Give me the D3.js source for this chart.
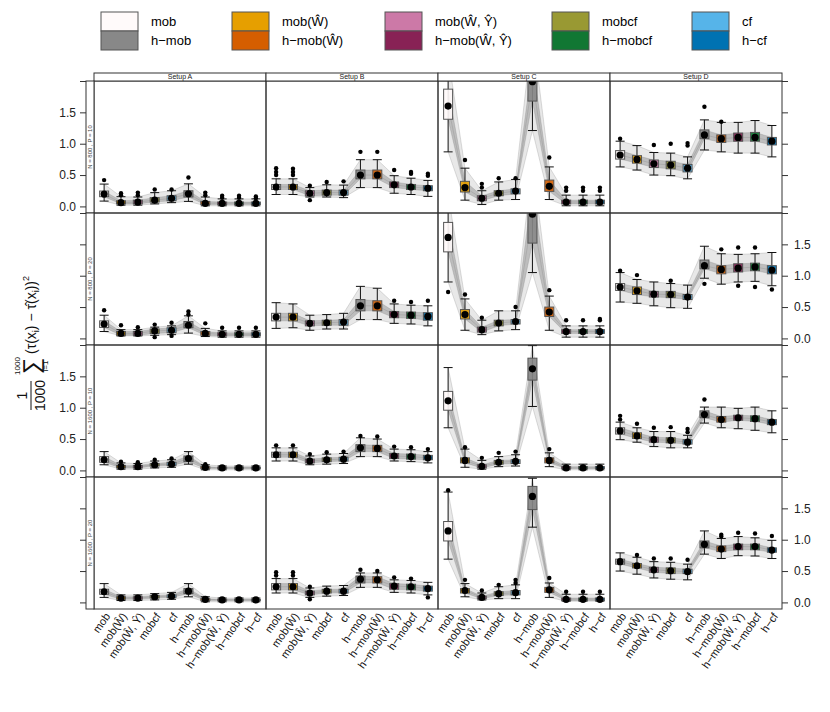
<!DOCTYPE html>
<html>
<head>
<meta charset="utf-8">
<script src="https://cdn.jsdelivr.net/npm/d3@7"></script>
<style>
body { margin: 0; background: #fff; }
text { font-family: "Liberation Sans", Arial, Helvetica, sans-serif; }
</style>
</head>
<body>
<div id="chart"></div>
<script>
// methods in plotting order, with box colours
var methods = ["mob", "mob(Ŵ)", "mob(Ŵ, Ŷ)", "mobcf", "cf",
    "h−mob", "h−mob(Ŵ)", "h−mob(Ŵ, Ŷ)", "h−mobcf", "h−cf"];
var fills = ["#FFFAFA", "#E69F00", "#CC79A7", "#999933", "#56B4E9",
    "#888888", "#D55E00", "#882255", "#117733", "#0072B2"];
var setups = ["Setup A", "Setup B", "Setup C", "Setup D"];
var designs = ["N = 800 , P = 10", "N = 800 , P = 20", "N = 1600 , P = 10", "N = 1600 , P = 20"];
var yTicks = [0, 0.5, 1, 1.5, 2];

// one entry per panel, row by row (designs), Setup A..D within a row
var lowW = [
    [0.085, 0.02, 0.02, 0.04, 0.06, 0.08, 0.01, 0.01, 0.01, 0.01],
    [0.19, 0.19, 0.15, 0.15, 0.14, 0.30, 0.30, 0.21, 0.19, 0.16],
    [0.87, 0.10, 0.03, 0.10, 0.11, 1.21, 0.11, 0.01, 0.01, 0.01],
    [0.63, 0.58, 0.50, 0.49, 0.44, 0.90, 0.87, 0.85, 0.85, 0.79],
    [0.11, 0.04, 0.04, 0.05, 0.06, 0.085, 0.03, 0.02, 0.02, 0.02],
    [0.16, 0.17, 0.13, 0.15, 0.15, 0.30, 0.30, 0.24, 0.23, 0.20],
    [0.90, 0.13, 0.06, 0.12, 0.14, 1.05, 0.13, 0.02, 0.02, 0.02],
    [0.58, 0.56, 0.52, 0.49, 0.48, 0.96, 0.865, 0.90, 0.91, 0.84],
    [0.09, 0.02, 0.02, 0.04, 0.05, 0.10, 0.01, 0.01, 0.01, 0.01],
    [0.15, 0.15, 0.09, 0.10, 0.11, 0.22, 0.22, 0.15, 0.14, 0.12],
    [0.68, 0.05, 0.02, 0.06, 0.07, 1.02, 0.06, 0.01, 0.01, 0.01],
    [0.49, 0.45, 0.38, 0.36, 0.36, 0.755, 0.68, 0.665, 0.64, 0.60],
    [0.08, 0.03, 0.03, 0.04, 0.05, 0.09, 0.01, 0.01, 0.01, 0.01],
    [0.15, 0.15, 0.08, 0.10, 0.11, 0.24, 0.24, 0.16, 0.15, 0.12],
    [0.69, 0.09, 0.04, 0.06, 0.06, 1.20, 0.08, 0.02, 0.02, 0.02],
    [0.50, 0.45, 0.39, 0.37, 0.36, 0.77, 0.70, 0.745, 0.74, 0.70]
];
var lowQ = [
    [0.155, 0.04, 0.04, 0.07, 0.09, 0.15, 0.03, 0.03, 0.03, 0.03],
    [0.27, 0.27, 0.17, 0.18, 0.18, 0.44, 0.44, 0.30, 0.27, 0.25],
    [1.39, 0.23, 0.09, 0.17, 0.20, 1.68, 0.24, 0.04, 0.04, 0.04],
    [0.755, 0.69, 0.62, 0.60, 0.55, 1.08, 1.02, 1.04, 1.04, 0.98],
    [0.175, 0.05, 0.05, 0.08, 0.09, 0.17, 0.05, 0.04, 0.04, 0.04],
    [0.28, 0.28, 0.20, 0.21, 0.21, 0.44, 0.44, 0.33, 0.32, 0.29],
    [1.38, 0.31, 0.10, 0.20, 0.23, 1.52, 0.35, 0.08, 0.08, 0.08],
    [0.765, 0.70, 0.66, 0.65, 0.62, 1.11, 1.03, 1.06, 1.08, 1.03],
    [0.13, 0.04, 0.04, 0.07, 0.08, 0.14, 0.03, 0.03, 0.03, 0.03],
    [0.21, 0.21, 0.12, 0.14, 0.15, 0.30, 0.30, 0.19, 0.18, 0.17],
    [0.96, 0.12, 0.04, 0.10, 0.11, 1.44, 0.12, 0.03, 0.03, 0.03],
    [0.58, 0.51, 0.45, 0.44, 0.42, 0.84, 0.77, 0.80, 0.78, 0.73],
    [0.13, 0.05, 0.05, 0.07, 0.08, 0.14, 0.03, 0.03, 0.03, 0.03],
    [0.20, 0.20, 0.12, 0.15, 0.15, 0.31, 0.31, 0.21, 0.20, 0.18],
    [0.98, 0.15, 0.06, 0.11, 0.12, 1.48, 0.16, 0.03, 0.03, 0.03],
    [0.61, 0.55, 0.48, 0.46, 0.46, 0.87, 0.81, 0.84, 0.84, 0.80]
];
var medians = [
    [0.197, 0.06, 0.07, 0.10, 0.13, 0.20, 0.05, 0.05, 0.05, 0.05],
    [0.31, 0.31, 0.21, 0.22, 0.22, 0.50, 0.50, 0.345, 0.31, 0.29],
    [1.60, 0.30, 0.13, 0.21, 0.245, 1.99, 0.32, 0.07, 0.07, 0.07],
    [0.82, 0.75, 0.68, 0.66, 0.61, 1.14, 1.08, 1.10, 1.10, 1.04],
    [0.23, 0.08, 0.08, 0.12, 0.13, 0.21, 0.08, 0.065, 0.065, 0.065],
    [0.34, 0.34, 0.24, 0.25, 0.26, 0.52, 0.52, 0.38, 0.37, 0.35],
    [1.61, 0.38, 0.14, 0.245, 0.27, 1.98, 0.42, 0.11, 0.11, 0.11],
    [0.82, 0.76, 0.705, 0.70, 0.66, 1.16, 1.10, 1.12, 1.14, 1.09],
    [0.17, 0.06, 0.06, 0.09, 0.10, 0.19, 0.05, 0.04, 0.04, 0.04],
    [0.25, 0.25, 0.15, 0.17, 0.18, 0.36, 0.35, 0.23, 0.22, 0.20],
    [1.11, 0.16, 0.065, 0.13, 0.145, 1.62, 0.16, 0.04, 0.04, 0.04],
    [0.63, 0.55, 0.49, 0.48, 0.45, 0.89, 0.81, 0.84, 0.825, 0.77],
    [0.17, 0.07, 0.07, 0.09, 0.10, 0.18, 0.05, 0.04, 0.04, 0.04],
    [0.25, 0.25, 0.15, 0.18, 0.18, 0.37, 0.36, 0.26, 0.25, 0.22],
    [1.14, 0.19, 0.08, 0.14, 0.155, 1.69, 0.20, 0.05, 0.05, 0.05],
    [0.65, 0.585, 0.52, 0.505, 0.49, 0.925, 0.85, 0.89, 0.89, 0.835]
];
var highQ = [
    [0.245, 0.09, 0.10, 0.14, 0.17, 0.25, 0.08, 0.07, 0.07, 0.07],
    [0.35, 0.35, 0.25, 0.26, 0.26, 0.58, 0.58, 0.39, 0.35, 0.33],
    [1.87, 0.40, 0.17, 0.25, 0.28, 2.30, 0.42, 0.10, 0.10, 0.10],
    [0.89, 0.81, 0.74, 0.72, 0.67, 1.22, 1.14, 1.17, 1.18, 1.10],
    [0.28, 0.11, 0.11, 0.15, 0.17, 0.27, 0.11, 0.09, 0.09, 0.09],
    [0.40, 0.40, 0.28, 0.29, 0.30, 0.62, 0.60, 0.43, 0.42, 0.41],
    [1.85, 0.46, 0.18, 0.29, 0.30, 2.40, 0.50, 0.14, 0.14, 0.14],
    [0.875, 0.82, 0.75, 0.75, 0.70, 1.25, 1.16, 1.19, 1.20, 1.16],
    [0.22, 0.08, 0.08, 0.11, 0.13, 0.23, 0.06, 0.05, 0.05, 0.05],
    [0.29, 0.29, 0.18, 0.20, 0.21, 0.41, 0.40, 0.27, 0.26, 0.24],
    [1.26, 0.20, 0.09, 0.16, 0.17, 1.79, 0.20, 0.06, 0.06, 0.06],
    [0.68, 0.60, 0.53, 0.52, 0.49, 0.95, 0.86, 0.88, 0.87, 0.81],
    [0.21, 0.09, 0.09, 0.11, 0.12, 0.22, 0.06, 0.05, 0.05, 0.05],
    [0.30, 0.30, 0.18, 0.21, 0.21, 0.42, 0.41, 0.30, 0.29, 0.26],
    [1.29, 0.22, 0.10, 0.17, 0.19, 1.85, 0.24, 0.07, 0.07, 0.07],
    [0.69, 0.62, 0.56, 0.55, 0.53, 0.98, 0.90, 0.93, 0.93, 0.87]
];
var highW = [
    [0.356, 0.155, 0.15, 0.22, 0.25, 0.36, 0.15, 0.12, 0.12, 0.12],
    [0.44, 0.44, 0.30, 0.345, 0.34, 0.745, 0.745, 0.49, 0.45, 0.415],
    [2.40, 0.61, 0.25, 0.39, 0.43, 2.80, 0.63, 0.18, 0.18, 0.18],
    [1.04, 0.97, 0.86, 0.85, 0.79, 1.38, 1.34, 1.34, 1.37, 1.29],
    [0.37, 0.14, 0.14, 0.18, 0.20, 0.36, 0.16, 0.12, 0.12, 0.12],
    [0.57, 0.55, 0.37, 0.38, 0.40, 0.83, 0.80, 0.55, 0.53, 0.52],
    [2.30, 0.63, 0.29, 0.44, 0.44, 2.80, 0.675, 0.20, 0.20, 0.20],
    [1.05, 0.94, 0.90, 0.875, 0.85, 1.47, 1.35, 1.34, 1.35, 1.37],
    [0.30, 0.12, 0.11, 0.15, 0.17, 0.30, 0.09, 0.07, 0.07, 0.07],
    [0.36, 0.36, 0.23, 0.26, 0.27, 0.52, 0.50, 0.34, 0.33, 0.30],
    [1.64, 0.34, 0.16, 0.22, 0.25, 1.99, 0.28, 0.10, 0.10, 0.10],
    [0.77, 0.68, 0.62, 0.62, 0.56, 1.01, 1.01, 0.99, 1.01, 0.95],
    [0.30, 0.12, 0.12, 0.14, 0.16, 0.30, 0.09, 0.07, 0.07, 0.07],
    [0.38, 0.38, 0.23, 0.26, 0.27, 0.47, 0.47, 0.36, 0.35, 0.32],
    [1.76, 0.30, 0.15, 0.25, 0.28, 1.98, 0.31, 0.13, 0.13, 0.13],
    [0.79, 0.72, 0.65, 0.64, 0.61, 1.14, 1.02, 1.05, 1.03, 0.99]
];
var outliers = [
    [[0.42], [0.18, 0.21], [0.18, 0.22], [0.27], [0.27], [0.46], [0.18, 0.22], [0.14, 0.17], [0.14, 0.17], [0.13, 0.16]],
    [[0.5, 0.55, 0.61], [0.5, 0.55, 0.6], [0.33, 0.1], [0.39], [0.4], [0.87], [0.87], [0.58], [0.52, 0.55], [0.49, 0.52]],
    [[], [0.74], [0.3, 0.36], [0.45], [0.45], [], [0.78], [0.25, 0.3], [0.25, 0.3], [0.25, 0.3]],
    [[1.08], [], [0.98], [1.0], [0.97, 1.01], [1.59], [1.35], [], [], []],
    [[0.45], [0.21], [0.18], [0.22, 0.02], [0.25, 0.04], [0.38, 0.43], [0.24], [0.17], [0.17], [0.17]],
    [[], [], [], [], [], [], [], [0.6], [0.58], [0.6]],
    [[0.74], [0.70], [0.33], [], [0.5], [], [0.77], [0.29], [0.29], [0.29, 0.31]],
    [[1.08], [1.01], [], [0.92], [], [0.87], [1.42], [1.45, 0.84], [1.45, 0.82], [0.78]],
    [[], [0.14], [0.13], [0.17], [0.19], [], [0.1], [], [], []],
    [[0.4], [0.4], [0.26], [0.29], [0.3], [0.55], [0.54], [0.38], [0.37], [0.34]],
    [[], [0.37], [0.2], [0.28], [0.3], [], [0.34], [], [], []],
    [[0.81, 0.87], [0.745], [0.68], [0.69], [0.61, 0.66], [1.13], [], [], [], []],
    [[], [], [], [], [], [], [], [], [], []],
    [[0.43, 0.48], [0.43, 0.48], [0.25, 0.05], [], [], [0.52], [0.5], [0.4], [0.38], [0.08]],
    [[1.79], [0.36], [0.19], [0.28], [0.31, 0.36], [], [0.39], [0.17], [0.17], [0.17]],
    [[], [0.755], [0.7], [0.7], [0.68], [], [1.05, 1.08], [1.11], [1.1], [1.06]]
];

var width = 830, height = 712;
var panelW = 172, panelH = 132;
var plotLeft = 94, plotTop = 81, stripH = 8, stripW = 8;
var frame = "#333";

var svg = d3.select("#chart").append("svg")
    .attr("width", width).attr("height", height)
    .style("background", "#fff");

// ---- legend (light / heavy colour pairs)
var legendX = [101, 232, 385, 552, 692];
var legend = svg.append("g").attr("class", "legend");
legendX.forEach(function (lx, i) {
    [i, i + 5].forEach(function (m, k) {
        legend.append("rect")
            .attr("x", lx).attr("y", 12 + k * 19)
            .attr("width", 37).attr("height", 19)
            .attr("fill", fills[m]).attr("stroke", "#555").attr("stroke-width", 1);
        legend.append("text")
            .attr("x", lx + 50).attr("y", 21.5 + k * 19)
            .attr("dy", "0.35em").attr("font-size", 13)
            .text(methods[m]);
    });
});

var y = d3.scaleLinear().domain([-0.105, 2.0]).range([panelH, 0]);
var fmt = function (d) { return d === 2 ? "" : d3.format(".1f")(d); };
var blank = function () { return ""; };

for (var r = 0; r < 4; r++) {
    for (var c = 0; c < 4; c++) {
        var p = r * 4 + c;
        var px = plotLeft + c * panelW, py = plotTop + r * panelH;
        var x = d3.scalePoint().domain(methods).range([0, panelW]).padding(0.6);
        var g = svg.append("g").attr("transform", "translate(" + px + "," + py + ")");

        var clipId = "clip" + p;
        g.append("clipPath").attr("id", clipId)
            .append("rect").attr("width", panelW).attr("height", panelH);
        var inner = g.append("g").attr("clip-path", "url(#" + clipId + ")");

        var rows = methods.map(function (m, i) {
            return { m: m, i: i, lo: lowW[p][i], q1: lowQ[p][i], med: medians[p][i],
                q3: highQ[p][i], hi: highW[p][i], out: outliers[p][i] };
        });
        var xm = function (d) { return x(d.m); };

        // grey band standing in for the replicate traces
        inner.append("path").datum(rows)
            .attr("fill", "#8a8a8a").attr("fill-opacity", 0.2)
            .attr("d", d3.area().x(xm).y0(function (d) { return y(d.lo); }).y1(function (d) { return y(d.hi); }));
        inner.append("path").datum(rows)
            .attr("fill", "#666").attr("fill-opacity", 0.33)
            .attr("d", d3.area().x(xm).y0(function (d) { return y(d.q1); }).y1(function (d) { return y(d.q3); }));
        ["lo", "q1", "med", "q3", "hi"].forEach(function (k) {
            inner.append("path").datum(rows)
                .attr("fill", "none").attr("stroke", "#777").attr("stroke-opacity", 0.3)
                .attr("stroke-width", 0.8)
                .attr("d", d3.line().x(xm).y(function (d) { return y(d[k]); }));
        });

        var box = inner.selectAll(".box").data(rows).enter().append("g").attr("class", "box");
        // whiskers
        box.append("line")
            .attr("x1", xm).attr("x2", xm)
            .attr("y1", function (d) { return y(d.hi); }).attr("y2", function (d) { return y(d.lo); })
            .attr("stroke", "#111").attr("stroke-width", 1);
        ["lo", "hi"].forEach(function (k) {
            box.append("line")
                .attr("x1", function (d) { return x(d.m) - 4.5; })
                .attr("x2", function (d) { return x(d.m) + 4.5; })
                .attr("y1", function (d) { return y(d[k]); }).attr("y2", function (d) { return y(d[k]); })
                .attr("stroke", "#111").attr("stroke-width", 1);
        });
        box.append("rect")
            .attr("x", function (d) { return x(d.m) - 4.5; })
            .attr("y", function (d) { return y(d.q3); })
            .attr("width", 9)
            .attr("height", function (d) { return Math.max(1, y(d.q1) - y(d.q3)); })
            .attr("fill", function (d) { return fills[d.i]; }).attr("fill-opacity", 0.9)
            .attr("stroke", "#555").attr("stroke-width", 1);
        box.append("circle")
            .attr("cx", xm).attr("cy", function (d) { return y(d.med); })
            .attr("r", 3.6).attr("fill", "#000");
        box.selectAll(".out").data(function (d) {
            return d.out.map(function (v) { return { m: d.m, v: v }; });
        }).enter().append("circle")
            .attr("cx", xm).attr("cy", function (d) { return y(d.v); })
            .attr("r", 2.2).attr("fill", "#000");

        g.append("rect").attr("width", panelW).attr("height", panelH)
            .attr("fill", "none").attr("stroke", frame).attr("stroke-width", 1);

        // strips
        if (r === 0) {
            g.append("rect").attr("y", -stripH).attr("width", panelW).attr("height", stripH)
                .attr("fill", "#fff").attr("stroke", frame);
            g.append("text").attr("x", panelW / 2).attr("y", -stripH / 2)
                .attr("dy", "0.35em").attr("text-anchor", "middle")
                .attr("font-size", 7).attr("fill", "#222").text(setups[c]);
        }
        if (c === 0) {
            g.append("rect").attr("x", -stripW).attr("width", stripW).attr("height", panelH)
                .attr("fill", "#fff").attr("stroke", frame);
            g.append("text")
                .attr("transform", "translate(" + (-stripW / 2) + "," + (panelH / 2) + ") rotate(-90)")
                .attr("dy", "0.35em").attr("text-anchor", "middle")
                .attr("font-size", 6).attr("fill", "#444").text(designs[r]);
            var ax = g.append("g").attr("transform", "translate(" + (-stripW) + ",0)")
                .call(d3.axisLeft(y).tickValues(yTicks).tickSize(6).tickPadding(4)
                    .tickFormat(r % 2 === 0 ? fmt : blank));
            ax.select(".domain").remove();
            ax.selectAll("text").attr("font-size", 12).attr("fill", "#222").attr("font-family", null);
            ax.selectAll("line").attr("stroke", frame);
        }
        if (c === 3) {
            var ax2 = g.append("g").attr("transform", "translate(" + panelW + ",0)")
                .call(d3.axisRight(y).tickValues(yTicks).tickSize(6).tickPadding(6)
                    .tickFormat(r % 2 === 1 ? fmt : blank));
            ax2.select(".domain").remove();
            ax2.selectAll("text").attr("font-size", 12).attr("fill", "#222").attr("font-family", null);
            ax2.selectAll("line").attr("stroke", frame);
        }
        if (r === 3) {
            var bx = g.append("g").attr("transform", "translate(0," + panelH + ")")
                .call(d3.axisBottom(x).tickSize(0));
            bx.select(".domain").remove();
            bx.selectAll("text")
                .attr("font-size", 11).attr("fill", "#111").attr("font-family", null)
                .attr("text-anchor", "end")
                .attr("x", 0).attr("y", 0).attr("dy", "0.35em")
                .attr("transform", "translate(3,5) rotate(-55)");
        }
    }
}

// ---- y axis title: 1/1000 sum_{i=1}^{1000} (tau(x_i) - tauhat(x_i))^2
var yt = svg.append("g").attr("transform", "translate(31,410) rotate(-90)")
    .attr("font-size", 14).attr("fill", "#111");
yt.append("text").attr("x", 14.5).attr("y", -4).attr("text-anchor", "middle").text("1");
yt.append("line").attr("x1", 0).attr("x2", 29).attr("stroke", "#111").attr("stroke-width", 1);
yt.append("text").attr("x", 14.5).attr("y", 14).attr("text-anchor", "middle").text("1000");
yt.append("text").attr("x", 44).attr("y", 8).attr("font-size", 23).attr("text-anchor", "middle").text("∑");
yt.append("text").attr("x", 44).attr("y", -11).attr("font-size", 8).attr("text-anchor", "middle").text("1000");
yt.append("text").attr("x", 44).attr("y", 17).attr("font-size", 8).attr("text-anchor", "middle").text("i=1");
var expr = yt.append("text").attr("x", 56).attr("y", 5);
expr.append("tspan").text("(τ(x");
expr.append("tspan").attr("font-size", 9).attr("dy", 3).text("i");
expr.append("tspan").attr("dy", -3).text(") − τ\u0302(x");
expr.append("tspan").attr("font-size", 9).attr("dy", 3).text("i");
expr.append("tspan").attr("dy", -3).text("))");
expr.append("tspan").attr("font-size", 9).attr("dy", -7).text("2");
</script>
</body>
</html>
